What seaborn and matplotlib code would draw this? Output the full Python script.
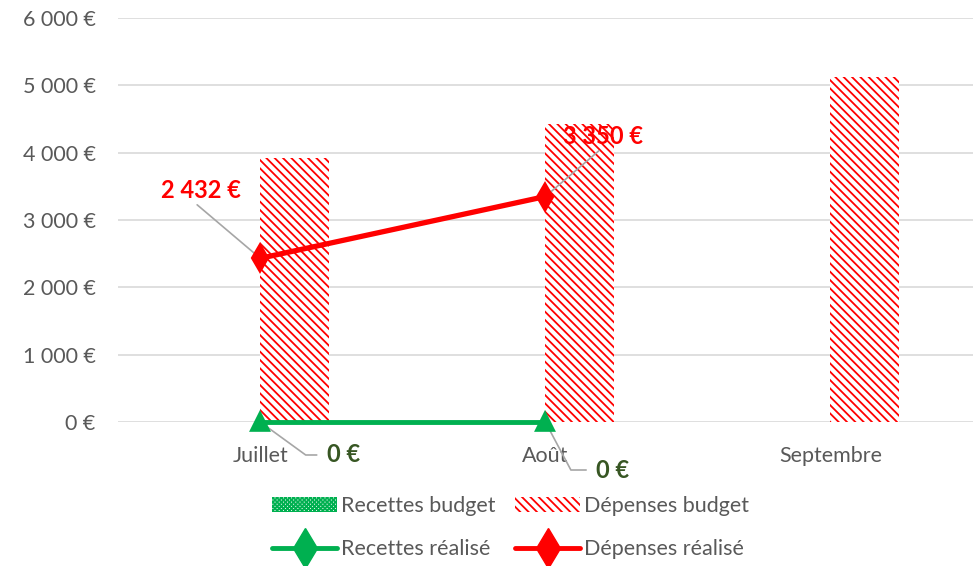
import matplotlib
matplotlib.use("Agg")
import matplotlib.pyplot as plt
import seaborn as sns
import pandas as pd
from matplotlib.patches import Patch
from matplotlib.lines import Line2D

months = ["Juillet", "Août", "Septembre"]
recettes_budget = [0, 0, 0]
depenses_budget = [3920, 4425, 5125]
realise_months = ["Juillet", "Août"]
recettes_realise = [0, 0]
depenses_realise = [2432, 3350]
y_ticks = [0, 1000, 2000, 3000, 4000, 5000, 6000]

RED = "#FF0000"
GREEN = "#00B050"
DARK_GREEN = "#375623"
TEXT = "#595959"
GRID = "#D9D9D9"
RED_HATCH = "\\\\\\\\"
GREEN_HATCH = "xxxxxxxx"

sns.set_theme(style="white")
plt.rcParams["font.family"] = ["Lato", "DejaVu Sans"]
plt.rcParams["hatch.linewidth"] = 1.3

fig = plt.figure(figsize=(9.73, 5.66), dpi=100)
ax = fig.add_axes([0.121, 0.2544, 0.879, 0.7136])

budget = pd.DataFrame({
    "Mois": months * 2,
    "Montant": recettes_budget + depenses_budget,
    "Série": ["Recettes budget"] * 3 + ["Dépenses budget"] * 3,
})
sns.barplot(data=budget, x="Mois", y="Montant", hue="Série", order=months,
            hue_order=["Recettes budget", "Dépenses budget"],
            palette=["white", "white"], width=0.48, gap=0, ax=ax,
            legend=False, errorbar=None, linewidth=0, saturation=1)
for i, bar in enumerate(ax.patches):
    if i < 3:
        bar.set_edgecolor(GREEN)
        bar.set_hatch(GREEN_HATCH)
    else:
        bar.set_edgecolor(RED)
        bar.set_hatch(RED_HATCH)
    bar.set_linewidth(0)

rec = pd.DataFrame({"Mois": realise_months, "Montant": recettes_realise})
dep = pd.DataFrame({"Mois": realise_months, "Montant": depenses_realise})
sns.pointplot(data=rec, x="Mois", y="Montant", order=months, color=GREEN,
              markers="^", markersize=11, linewidth=3.5, errorbar=None, ax=ax)
sns.pointplot(data=dep, x="Mois", y="Montant", order=months, color=RED,
              markers="d", markersize=12, linewidth=3.8, errorbar=None, ax=ax)
for ln in ax.lines:
    ln.set_clip_on(False)
    ln.set_zorder(5)

ax.set_xlim(-0.5, 2.5)
ax.set_ylim(0, 6000)
ax.set_yticks(y_ticks)
ax.set_yticklabels([f"{v:,}".replace(",", " ") + " €" for v in y_ticks])
ax.set_xlabel("")
ax.set_ylabel("")
ax.grid(axis="y", color=GRID, linewidth=1.2)
ax.set_axisbelow(True)
for s in ax.spines.values():
    s.set_visible(False)
ax.tick_params(axis="y", length=0, pad=16, labelsize=15.5, labelcolor=TEXT)
ax.tick_params(axis="x", length=0, pad=17, labelsize=15.5, labelcolor=TEXT)

lbl = dict(ha="center", va="center", fontsize=17, fontweight="bold",
           annotation_clip=False)
lead = dict(arrowstyle="-", color="#A6A6A6", linewidth=1.2, shrinkA=0, shrinkB=2)
ax.annotate(f"{depenses_realise[0]:,}".replace(",", " ") + " €",
            xy=(0, depenses_realise[0]), xytext=(-0.207, 3446), color=RED,
            arrowprops=dict(lead, relpos=(0.4, 0.0)), **lbl)
ax.annotate(f"{depenses_realise[1]:,}".replace(",", " ") + " €",
            xy=(1, depenses_realise[1]), xytext=(1.201, 4248), color=RED,
            arrowprops=dict(lead, relpos=(0.5, 0.0)), **lbl)
ax.annotate(f"{recettes_realise[0]} €", xy=(0, recettes_realise[0]),
            xytext=(0.291, -490), color=DARK_GREEN,
            arrowprops=dict(lead, relpos=(-0.3, 0.5),
                            connectionstyle="angle,angleA=180,angleB=-36,rad=0"),
            **lbl)
ax.annotate(f"{recettes_realise[1]} €", xy=(1, recettes_realise[1]),
            xytext=(1.236, -713), color=DARK_GREEN,
            arrowprops=dict(lead, relpos=(-0.3, 0.5),
                            connectionstyle="angle,angleA=180,angleB=-62,rad=0"),
            **lbl)

handles = [
    Patch(facecolor="white", edgecolor=GREEN, hatch=GREEN_HATCH, linewidth=0),
    Line2D([0], [0], color=GREEN, linewidth=3.5, marker="d", markersize=20,
           markevery=[0, -1]),
    Patch(facecolor="white", edgecolor=RED, hatch=RED_HATCH, linewidth=0),
    Line2D([0], [0], color=RED, linewidth=3.5, marker="d", markersize=20,
           markevery=[0, -1]),
]
labels = ["Recettes budget", "Recettes réalisé", "Dépenses budget", "Dépenses réalisé"]
fig.legend(handles, labels, ncol=2, loc="center", bbox_to_anchor=(0.525, 0.068),
           frameon=False, fontsize=15.5, labelcolor=TEXT, handlelength=3.0,
           handleheight=0.7, handletextpad=0.2, columnspacing=0.9,
           labelspacing=1.1)

fig.savefig("out.png", dpi=100)
